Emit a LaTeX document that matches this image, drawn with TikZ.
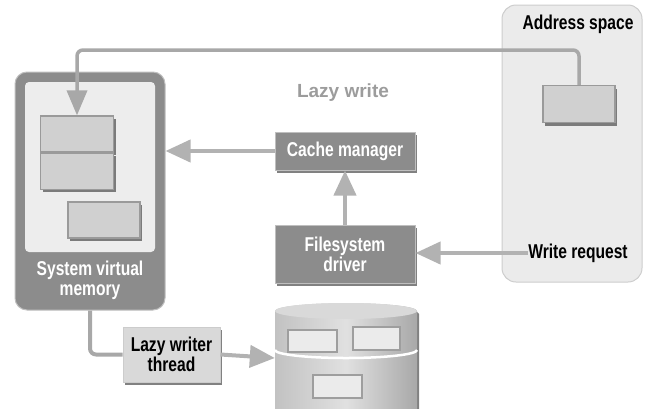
\documentclass[tikz,border=0pt]{standalone}
\usepackage{fontspec}
\setmainfont{Liberation Sans}[FakeStretch=0.78]
\newfontfamily\widefont{Liberation Sans}
\usepackage{tikz}
\usetikzlibrary{arrows.meta,shadows,positioning}

\definecolor{panelfill}{HTML}{EBEBEB}
\definecolor{paneledge}{HTML}{CDCDCD}
\definecolor{darkfill}{HTML}{8C8C8C}
\definecolor{lightfill}{HTML}{D9D9D9}
\definecolor{pagefill}{HTML}{D0D0D0}
\definecolor{pageedge}{HTML}{9A9A9A}
\definecolor{flowgray}{HTML}{B2B2B2}
\definecolor{linkgray}{HTML}{A8A8A8}
\definecolor{labelgray}{HTML}{9C9C9C}

\begin{document}
\begin{tikzpicture}[x=1pt,y=1pt,
   txt/.style={font=\bfseries\fontsize{20}{20}\selectfont, align=center, inner sep=0pt},
   shade/.style={drop shadow={shadow xshift=2pt,shadow yshift=-3pt,fill=black!70,opacity=.7}},
   darkbox/.style={txt, rectangle, fill=darkfill, draw=white!75!black, line width=1pt, text=white, minimum width=140pt, shade},
   lightbox/.style={txt, rectangle, fill=lightfill, draw=white!80!black, line width=1pt, text=black, shade},
   page/.style={rectangle, fill=pagefill, draw=pageedge, line width=1.2pt, minimum width=73pt, minimum height=36pt, inner sep=0pt, shade},
   diskpage/.style={rectangle, fill=white!92!black, draw=white!62!black, line width=2pt, inner sep=0pt},
   flow/.style={draw=flowgray, line width=4pt, -{Triangle[length=25pt,width=22pt]}},
   link/.style={draw=linkgray, line width=3.5pt, rounded corners=6pt}]

   \useasboundingbox (0,0) rectangle (645,-408);

   \node[rectangle, rounded corners=14pt, fill=panelfill, draw=paneledge, line width=1pt,
         minimum width=140pt, minimum height=277pt] (addr) at (572,-143.5) {};
   \node[txt] (addrlabel) at (578,-24) {Address space};
   \node[page, minimum width=72pt, minimum height=37pt] (upage) at (579,-104) {};

   \node[rectangle, rounded corners=12pt, fill=darkfill, draw=white!75!black, line width=1pt,
         minimum width=150pt, minimum height=238pt] (vmem) at (90,-191) {};
   \node[rectangle, rounded corners=4pt, fill=white!93!black,
         minimum width=130pt, minimum height=170pt] (vmemin) at (90,-167) {};
   \node[txt, text=white] (vmemlabel) at (90,-280) {System virtual\\memory};
   \node[page] (page1) at (77,-134) {};
   \node[page] (page2) [below=0pt of page1] {};
   \node[page, minimum width=72pt] (page3) at (104,-220) {};

   \node[txt, font=\widefont\bfseries\fontsize{19}{21}\selectfont, text=labelgray] (lazylabel) at (343,-93) {Lazy write};
   \node[darkbox, minimum height=38pt] (cachemgr) at (345,-151) {Cache manager};
   \node[darkbox, minimum height=58pt] (fsd) at (345,-254) {Filesystem\\driver};
   \node[txt] (wreq) at (578,-253) {Write request};
   \node[lightbox, minimum width=97pt, minimum height=55pt] (lwt) at (171.5,-354.5) {Lazy writer\\thread};

   \shade[left color=white!76!black, right color=white!66!black, middle color=white!88!black]
      (275,-311) -- (275,-410) -- (417,-410) -- (417,-311)
      arc[start angle=0, end angle=180, x radius=71pt, y radius=8pt] -- cycle;
   \fill[white!85!black] (346,-311) ellipse[x radius=71pt, y radius=8pt];
   \draw[white, line width=2.5pt] (275,-350) arc[start angle=180, end angle=360, x radius=71pt, y radius=8pt];
   \node[diskpage, minimum width=49pt, minimum height=22pt] (dpage1) at (312.5,-341) {};
   \node[diskpage, minimum width=47pt, minimum height=23pt] (dpage2) at (376.5,-338.5) {};
   \node[diskpage, minimum width=49pt, minimum height=23pt] (dpage3) at (337.5,-386.5) {};
   \node[minimum width=142pt, minimum height=100pt, inner sep=0pt] (disk) at (346,-358) {};

   \coordinate (top) at (300,-50);
   \draw[link, -{Triangle[length=25pt,width=20pt]}] (upage.north) |- (top) -| (page1.north);
   \draw[link, line width=4pt] (vmem.south) |- (lwt.west);

   \draw[flow] (cachemgr.west) -- (cachemgr.west -| vmem.east);
   \draw[flow] (fsd.north) -- (cachemgr.south);
   \draw[flow] (wreq.west) -- (wreq.west -| fsd.east);
   \draw[flow] (lwt.east) -- (disk.west);
\end{tikzpicture}
\end{document}
